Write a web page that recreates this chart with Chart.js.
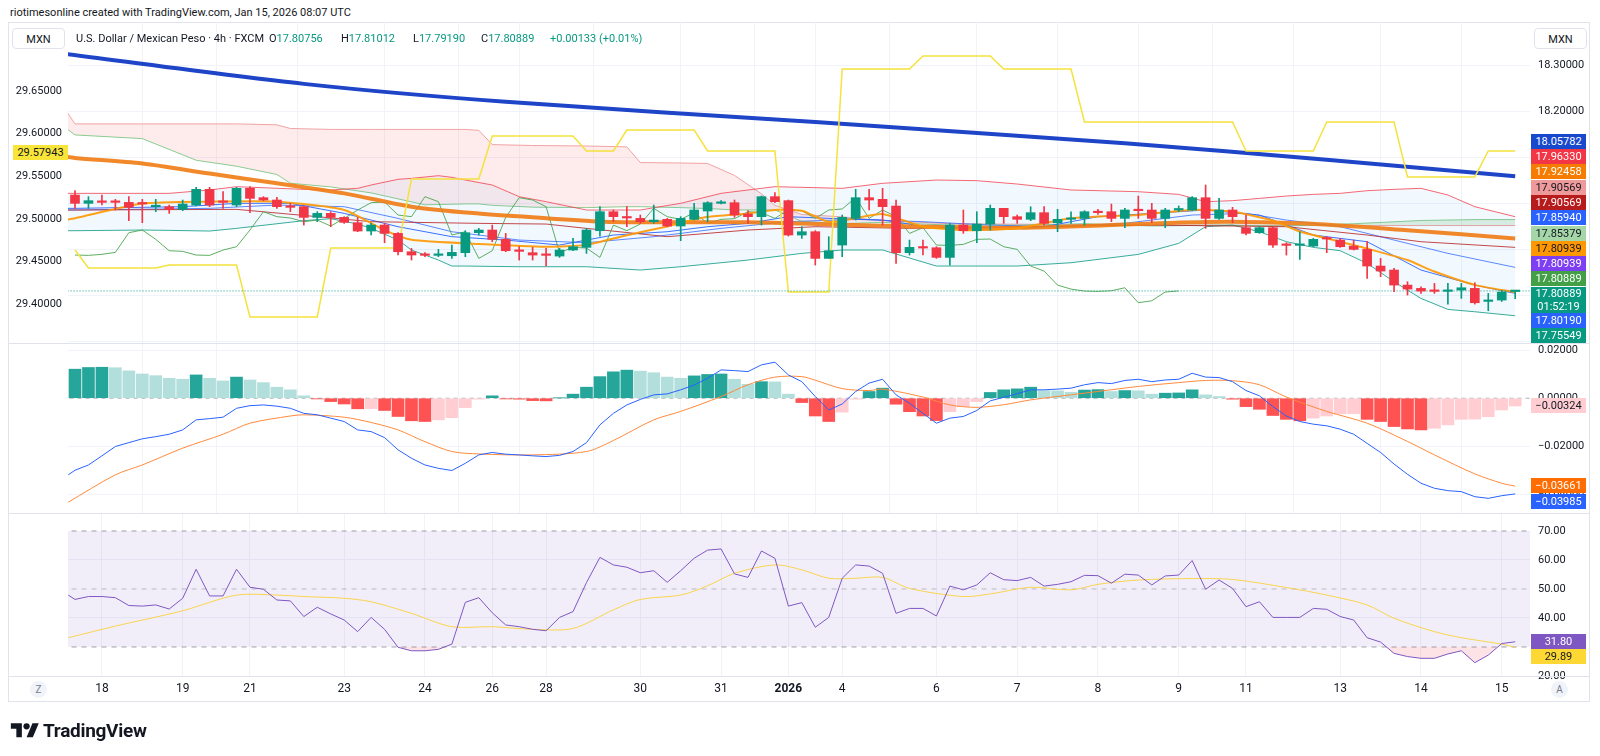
<!DOCTYPE html>
<html>
<head>
<meta charset="utf-8">
<script src="https://cdn.jsdelivr.net/npm/chart.js@4.4.1/dist/chart.umd.min.js"></script>
<style>
  body { margin: 0; width: 1600px; height: 756px; background: #fff; position: relative; overflow: hidden;
         font-family: Roboto, "Liberation Sans", sans-serif; color: #131722; }
  canvas { position: absolute; left: 8px; }
  .frame { position: absolute; left: 8px; top: 22px; width: 1582px; height: 680px; border: 1px solid #E0E3EB; box-sizing: border-box; }
  .sep { position: absolute; left: 8px; width: 1582px; height: 1px; background: #E0E3EB; }
  .pl { position: absolute; left: 1531px; width: 55px; height: 15px; line-height: 15px; font-size: 11px;
        text-align: center; color: #fff; }
  .box { position: absolute; top: 28px; width: 53px; height: 21px; border: 1px solid #E0E3EB; border-radius: 4px;
         font-size: 11px; line-height: 21px; text-align: center; background: #fff; box-sizing: border-box; }
  .circ { position: absolute; top: 681px; width: 17px; height: 17px; border-radius: 50%; background: #F0F3FA;
          font-size: 10px; line-height: 17px; text-align: center; color: #787B86; }
  .lg { position: absolute; top: 32px; font-size: 11px; white-space: nowrap; }
  .g { color: #089981; }
</style>
</head>
<body>
<div style="position:absolute;left:10px;top:6px;font-size:11px;">riotimesonline created with TradingView.com, Jan 15, 2026 08:07 UTC</div>
<div class="frame"></div>
<canvas id="main" width="1582" height="321" style="top:22px"></canvas>
<canvas id="macd" width="1582" height="170" style="top:343px"></canvas>
<canvas id="rsi" width="1582" height="189" style="top:513px"></canvas>
<div class="sep" style="top:343px"></div>
<div class="sep" style="top:513px"></div>
<div class="sep" style="top:676px"></div>

<div class="box" style="left:12px">MXN</div>
<div class="box" style="left:1534px">MXN</div>
<div class="lg" style="left:76px">U.S. Dollar / Mexican Peso · 4h · FXCM</div>
<div class="lg" style="left:269px">O<span class="g">17.80756</span></div>
<div class="lg" style="left:341px">H<span class="g">17.81012</span></div>
<div class="lg" style="left:413px">L<span class="g">17.79190</span></div>
<div class="lg" style="left:481px">C<span class="g">17.80889</span></div>
<div class="lg g" style="left:550px">+0.00133 (+0.01%)</div>

<div class="pl" style="left:13px;top:145px;background:#F9E43A;color:#131722;">29.57943</div>

<div class="pl" style="top:134px;background:#1848CC">18.05782</div>
<div class="pl" style="top:149px;background:#F23645">17.96330</div>
<div class="pl" style="top:164px;background:#F57C00">17.92458</div>
<div class="pl" style="top:180px;background:#EF9A9A;color:#131722">17.90569</div>
<div class="pl" style="top:195px;background:#B71C1C">17.90569</div>
<div class="pl" style="top:210px;background:#2962FF">17.85940</div>
<div class="pl" style="top:226px;background:#A5D6A7;color:#131722">17.85379</div>
<div class="pl" style="top:241px;background:#FF9800;color:#131722">17.80939</div>
<div class="pl" style="top:256px;background:#7E3FF2">17.80939</div>
<div class="pl" style="top:271px;background:#43A047">17.80889</div>
<div class="pl" style="top:287px;height:26px;line-height:13px;background:#089981">17.80889<br>01:52:19</div>
<div class="pl" style="top:313px;background:#2962FF">17.80190</div>
<div class="pl" style="top:328px;background:#089981">17.75549</div>

<div class="pl" style="top:398px;background:#FFCDD2;color:#131722">&minus;0.00324</div>
<div class="pl" style="top:478px;background:#FF6D00">&minus;0.03661</div>
<div class="pl" style="top:494px;background:#2962FF">&minus;0.03985</div>

<div class="pl" style="top:634px;background:#7E57C2">31.80</div>
<div class="pl" style="top:649px;background:#FDD835;color:#131722">29.89</div>

<div class="circ" style="left:30px">Z</div>
<div class="circ" style="left:1551px">A</div>

<div style="position:absolute;left:10px;top:719px;display:flex;align-items:center;">
  <svg width="30" height="22" viewBox="0 0 36 28"><path d="M14 22H7V11H0V4h14v18zM28 22h-8l7.5-18h8L28 22z" fill="#131722"/><circle cx="20" cy="8" r="4" fill="#131722"/></svg>
  <span style="font-size:19px;font-weight:bold;margin-left:3px;letter-spacing:-0.3px">TradingView</span>
</div>

<script>
// x positions are candle indices (4h bars), day labels sit on the first bar of each day
const dayIdx = [2, 8, 13, 20, 26, 31, 35, 42, 48, 53, 57, 64, 70, 76, 82, 87, 94, 100, 106];
const dayLabels = ['18', '19', '21', '23', '24', '26', '28', '30', '31', '2026', '4', '6', '7', '8', '9', '11', '13', '14', '15'];

const opens = [18.0174, 17.9993, 18.0036, 18.0036, 18.0014, 17.9999, 17.9920, 17.9920, 17.9862, 17.9956,
  18.0297, 18.0043, 17.9956, 18.0319, 18.0116, 18.0065, 17.9928, 17.9920, 17.9688, 17.9775,
  17.9688, 17.9572, 17.9391, 17.9521, 17.9340, 17.8941, 17.8884, 17.8862, 17.8854, 17.8920,
  17.9355, 17.9413, 17.9210, 17.8970, 17.8920, 17.8884, 17.8847, 17.8978, 17.9036, 17.9398,
  17.9811, 17.9703, 17.9666, 17.9594, 17.9645, 17.9500, 17.9645, 17.9826, 17.9993, 18.0007,
  17.9761, 17.9703, 18.0138, 18.0051, 17.9304, 17.9376, 17.8796, 17.9086, 17.9666, 18.0116,
  18.0080, 17.9935, 17.8920, 17.9043, 17.9028, 17.8818, 17.9521, 17.9398, 17.9543, 17.9884,
  17.9703, 17.9645, 17.9790, 17.9572, 17.9645, 17.9666, 17.9804, 17.9811, 17.9666, 17.9855,
  17.9848, 17.9666, 17.9848, 17.9848, 18.0116, 17.9666, 17.9848, 17.9463, 17.9355, 17.9463,
  17.9101, 17.9079, 17.9065, 17.9239, 17.9195, 17.9065, 17.8992, 17.8630, 17.8543, 17.8216,
  17.8144, 17.8093, 17.8079, 17.8108, 17.8144, 17.7861, 17.7890, 17.80756];
const highs = [18.0268, 18.0138, 18.0174, 18.0080, 18.0138, 18.0080, 18.0080, 17.9956, 18.0065, 18.0341,
  18.0341, 18.0246, 18.0341, 18.0355, 18.0138, 18.0123, 17.9993, 17.9935, 17.9811, 17.9811,
  17.9703, 17.9688, 17.9558, 17.9558, 17.9355, 17.9014, 17.8920, 17.8992, 17.9086, 17.9398,
  17.9449, 17.9521, 17.9340, 17.9050, 17.9036, 17.9014, 17.9014, 17.9231, 17.9449, 17.9920,
  17.9848, 17.9920, 17.9739, 17.9956, 17.9666, 17.9703, 17.9993, 18.0029, 18.0051, 18.0065,
  17.9833, 18.0152, 18.0225, 18.0065, 17.9485, 17.9398, 17.9268, 17.9739, 18.0297, 18.0297,
  18.0319, 18.0065, 17.9195, 17.9195, 17.9050, 17.9558, 17.9848, 17.9811, 17.9956, 17.9884,
  17.9739, 17.9920, 17.9920, 17.9862, 17.9811, 17.9833, 17.9862, 17.9978, 17.9884, 18.0152,
  17.9993, 17.9884, 17.9935, 18.0138, 18.0391, 18.0101, 17.9906, 17.9739, 17.9485, 17.9485,
  17.9137, 17.9376, 17.9231, 17.9268, 17.9231, 17.9195, 17.9159, 17.8796, 17.8579, 17.8289,
  17.8180, 17.8253, 17.8253, 17.8253, 17.8267, 17.8035, 17.8100, 17.81012];
const lows = [17.9884, 17.9884, 17.9956, 17.9848, 17.9616, 17.9572, 17.9811, 17.9775, 17.9833, 17.9935,
  17.9920, 17.9884, 17.9920, 17.9790, 18.0051, 17.9884, 17.9811, 17.9521, 17.9594, 17.9485,
  17.9558, 17.9376, 17.9304, 17.9137, 17.8869, 17.8760, 17.8833, 17.8833, 17.8796, 17.8833,
  17.9304, 17.9159, 17.8941, 17.8760, 17.8760, 17.8630, 17.8818, 17.8963, 17.8905, 17.9282,
  17.9594, 17.9485, 17.9558, 17.9558, 17.9485, 17.9181, 17.9630, 17.9594, 17.9978, 17.9688,
  17.9558, 17.9521, 18.0007, 17.9282, 17.9231, 17.8651, 17.8796, 17.8833, 17.9630, 17.9848,
  17.9521, 17.8688, 17.8869, 17.8869, 17.8796, 17.8651, 17.9340, 17.9137, 17.9413, 17.9558,
  17.9558, 17.9616, 17.9521, 17.9376, 17.9558, 17.9521, 17.9753, 17.9594, 17.9463, 17.9666,
  17.9572, 17.9463, 17.9811, 17.9833, 17.9449, 17.9645, 17.9572, 17.9304, 17.9340, 17.9036,
  17.8869, 17.8775, 17.9050, 17.8920, 17.9036, 17.8978, 17.8361, 17.8398, 17.8071, 17.7999,
  17.8035, 17.8035, 17.7803, 17.7926, 17.7803, 17.7658, 17.7860, 17.79190];
const closes = [17.9993, 18.0051, 18.0014, 18.0014, 17.9906, 17.9978, 17.9949, 17.9862, 17.9978, 18.0297,
  17.9956, 18.0014, 18.0319, 18.0101, 18.0065, 17.9920, 17.9906, 17.9688, 17.9775, 17.9688,
  17.9579, 17.9391, 17.9521, 17.9340, 17.8941, 17.8869, 17.8862, 17.8884, 17.8927, 17.9355,
  17.9413, 17.9210, 17.8963, 17.8949, 17.8869, 17.8862, 17.8978, 17.9050, 17.9413, 17.9811,
  17.9703, 17.9674, 17.9594, 17.9630, 17.9500, 17.9666, 17.9848, 18.0007, 18.0022, 17.9739,
  17.9703, 18.0138, 18.0029, 17.9304, 17.9376, 17.8796, 17.8963, 17.9688, 18.0116, 18.0065,
  17.9920, 17.8920, 17.9036, 17.9021, 17.8818, 17.9521, 17.9398, 17.9543, 17.9884, 17.9703,
  17.9645, 17.9790, 17.9558, 17.9645, 17.9659, 17.9811, 17.9790, 17.9666, 17.9848, 17.9833,
  17.9666, 17.9848, 17.9870, 18.0116, 17.9666, 17.9848, 17.9703, 17.9340, 17.9463, 17.9086,
  17.9079, 17.9101, 17.9210, 17.9217, 17.9050, 17.8992, 17.8630, 17.8521, 17.8216, 17.8129,
  17.8086, 17.8079, 17.8093, 17.8158, 17.7832, 17.7875, 17.8065, 17.80889];

// moving averages (sparse points)
const emaLongIdx = [-1, 17, 32, 55, 78, 93, 107];
const emaLong = [18.325, 18.259, 18.220, 18.176, 18.130, 18.094, 18.058];
const emaMidIdx = [-1, 0, 5, 10, 15, 20, 25, 30, 35, 40, 50, 58, 70, 84, 91, 99, 107];
const emaMid = [18.102, 18.098, 18.086, 18.064, 18.043, 18.021, 17.992, 17.977, 17.967, 17.959,
  17.958, 17.952, 17.946, 17.959, 17.956, 17.941, 17.923];
const emaFastIdx = [-1, 0, 5, 10, 15, 20, 23, 25, 30, 35, 38, 41, 44, 47, 50, 52, 54, 56, 58, 60,
  63, 66, 70, 74, 79, 83, 86, 89, 91, 94, 96, 99, 101, 104, 107];
const emaFast = [17.962, 17.967, 17.999, 18.003, 18.003, 17.985, 17.941, 17.920, 17.911, 17.905,
  17.909, 17.930, 17.949, 17.970, 17.977, 17.985, 17.983, 17.959, 17.967, 17.976,
  17.949, 17.941, 17.945, 17.967, 17.974, 17.985, 17.981, 17.962, 17.938, 17.916,
  17.901, 17.876, 17.851, 17.822, 17.806];

// bollinger bands
const bbIdx = [-1, 0, 5, 7, 10, 12, 17, 19, 21, 22, 24, 25, 27, 28, 29, 31, 33, 35, 38, 42, 45, 48,
  50, 52, 54, 57, 60, 64, 67, 70, 74, 79, 82, 84, 86, 88, 90, 92, 94, 96, 98, 100, 102, 104, 107];
const bbUpper = [18.0210, 18.0210, 18.0210, 18.0210, 18.0283, 18.0355, 18.0297, 18.0283, 18.0319, 18.0391,
  18.0515, 18.0536, 18.0594, 18.0558, 18.0500, 18.0391, 18.0138, 18.0029, 17.9848, 17.9848,
  17.9993, 18.0210, 18.0283, 18.0355, 18.0341, 18.0319, 18.0428, 18.0500, 18.0486, 18.0413,
  18.0283, 18.0246, 18.0188, 18.0029, 18.0051, 18.0101, 18.0152, 18.0188, 18.0210, 18.0268,
  18.0297, 18.0319, 18.0174, 17.9920, 17.9703];
const bbLower = [17.9398, 17.9398, 17.9413, 17.9405, 17.9391, 17.9449, 17.9616, 17.9659, 17.9543, 17.9449,
  17.9195, 17.8978, 17.8760, 17.8630, 17.8630, 17.8622, 17.8615, 17.8615, 17.8615, 17.8543,
  17.8615, 17.8702, 17.8760, 17.8833, 17.8905, 17.8978, 17.8978, 17.8630, 17.8630, 17.8630,
  17.8702, 17.8883, 17.9123, 17.9485, 17.9521, 17.9376, 17.9159, 17.9036, 17.8963, 17.8688,
  17.8289, 17.7926, 17.7687, 17.7636, 17.7549];
const bbBasisIdx = [-1, 0, 10, 15, 20, 24, 28, 33, 38, 43, 48, 53, 58, 63, 68, 73, 78, 83, 87, 90, 94, 98, 102, 107];
const bbBasis = [17.9848, 17.9848, 17.9884, 17.9956, 17.9920, 17.9666, 17.9376, 17.9195, 17.9137, 17.9268,
  17.9449, 17.9594, 17.9645, 17.9594, 17.9521, 17.9485, 17.9558, 17.9739, 17.9775, 17.9630,
  17.9485, 17.9195, 17.8905, 17.8601];

// ichimoku
const tenkanIdx = [-1, 0, 8, 12, 16, 20, 24, 28, 32, 36, 40, 44, 47, 50, 53, 56, 60, 64, 68, 72, 76,
  80, 84, 88, 92, 96, 100, 104, 107];
const tenkan = [17.9884, 17.9884, 17.9920, 17.9993, 17.9993, 17.9775, 17.9485, 17.9268, 17.9195, 17.9086,
  17.9304, 17.9376, 17.9485, 17.9558, 17.9703, 17.9666, 17.9630, 17.9449, 17.9413, 17.9485,
  17.9703, 17.9775, 17.9848, 17.9739, 17.9304, 17.9159, 17.8543, 17.8216, 17.8035];
const kijunIdx = [-1, 0, 12, 18, 22, 30, 35, 38, 44, 50, 55, 62, 70, 80, 90, 96, 100, 107];
const kijun = [17.9848, 17.9848, 17.9862, 17.9703, 17.9594, 17.9558, 17.9543, 17.9449, 17.9268, 17.9413,
  17.9485, 17.9449, 17.9485, 17.9521, 17.9485, 17.9304, 17.9159, 17.9036];
const cloudIdx = [-1, 0, 5, 9, 12, 15, 16, 19, 22, 26, 29, 30, 31, 34, 38, 41, 42, 45, 47, 49, 51, 52,
  54, 57, 60, 65, 70, 75, 80, 85, 90, 95, 100, 104, 107];
const spanB = [18.215, 18.172, 18.172, 18.172, 18.172, 18.170, 18.162, 18.160, 18.160, 18.160,
  18.160, 18.158, 18.127, 18.125, 18.124, 18.122, 18.088, 18.087, 18.086, 18.060,
  18.020, 17.995, 17.975, 17.970, 17.962, 17.955, 17.954, 17.953, 17.952, 17.952,
  17.951, 17.951, 17.951, 17.951, 17.951];
const spanA = [18.170, 18.148, 18.140, 18.093, 18.080, 18.062, 18.043, 18.035, 18.022, 17.996,
  17.998, 17.998, 17.995, 17.991, 17.990, 17.992, 17.992, 17.990, 17.988, 17.985,
  17.985, 17.985, 17.960, 17.955, 17.958, 17.952, 17.952, 17.955, 17.950, 17.952,
  17.950, 17.955, 17.962, 17.964, 17.964];
const lagShift = 25;
const laggingSpan = closes.slice(lagShift);

// compared symbol on the left scale
const compareLine = [29.4634,
  29.4423, 29.4423, 29.4423, 29.4423, 29.4423, 29.4423,
  29.4458, 29.4458, 29.4458, 29.4458, 29.4458, 29.4458,
  29.3847, 29.3847, 29.3847, 29.3847, 29.3847, 29.3847,
  29.4657, 29.4657, 29.4657, 29.4657, 29.4657, 29.4657,
  29.5467, 29.5467, 29.5467, 29.5467, 29.5467, 29.5467,
  29.5972, 29.5972, 29.5972, 29.5972, 29.5972, 29.5972, 29.5972,
  29.5796, 29.5796, 29.5796,
  29.6042, 29.6042, 29.6042, 29.6042, 29.6042, 29.6042,
  29.5796, 29.5796, 29.5796, 29.5796, 29.5796, 29.5796,
  29.4141, 29.4141, 29.4141, 29.4141,
  29.6758, 29.6758, 29.6758, 29.6758, 29.6758, 29.6758,
  29.6911, 29.6911, 29.6911, 29.6911, 29.6911, 29.6911,
  29.6758, 29.6758, 29.6758, 29.6758, 29.6758, 29.6758,
  29.6136, 29.6136, 29.6136, 29.6136, 29.6136, 29.6136, 29.6136, 29.6136, 29.6136, 29.6136, 29.6136, 29.6136,
  29.5796, 29.5796, 29.5796, 29.5796, 29.5796, 29.5796,
  29.6136, 29.6136, 29.6136, 29.6136, 29.6136, 29.6136,
  29.5491, 29.5491, 29.5491, 29.5491, 29.5491, 29.5491,
  29.5796, 29.5796, 29.5796];

// MACD
const macdLine = [-0.0300, -0.0278, -0.0240, -0.0201, -0.0185, -0.0169, -0.0160, -0.0150, -0.0132, -0.0090,
  -0.0085, -0.0079, -0.0042, -0.0031, -0.0028, -0.0033, -0.0042, -0.0063, -0.0069, -0.0083,
  -0.0097, -0.0132, -0.0139, -0.0164, -0.0215, -0.0250, -0.0278, -0.0292, -0.0301, -0.0271,
  -0.0236, -0.0226, -0.0233, -0.0236, -0.0240, -0.0243, -0.0238, -0.0222, -0.0185, -0.0111,
  -0.0063, -0.0028, -0.0005, 0.0014, 0.0018, 0.0035, 0.0055, 0.0083, 0.0118, 0.0115,
  0.0111, 0.0139, 0.0150, 0.0097, 0.0069, 0.0007, -0.0049, -0.0024, 0.0028, 0.0063,
  0.0079, 0.0014, -0.0021, -0.0063, -0.0104, -0.0083, -0.0076, -0.0051, -0.0011, 0.0004,
  0.0019, 0.0035, 0.0035, 0.0038, 0.0042, 0.0056, 0.0065, 0.0061, 0.0074, 0.0079,
  0.0069, 0.0076, 0.0079, 0.0104, 0.0088, 0.0086, 0.0069, 0.0032, 0.0010, -0.0035,
  -0.0074, -0.0097, -0.0108, -0.0115, -0.0129, -0.0150, -0.0188, -0.0226, -0.0274, -0.0317,
  -0.0354, -0.0375, -0.0385, -0.0389, -0.0410, -0.0417, -0.0406, -0.03985];
const signalIdx = [-0.5, 3, 5, 8, 11, 13, 16, 17, 20, 22, 24, 26, 28, 30, 34, 38, 40, 43, 45, 48, 50, 52,
  54, 55, 57, 59, 60, 63, 65, 67, 69, 71, 75, 79, 82, 84, 86, 88, 90, 93, 96, 99, 101, 104, 106, 107];
const signalLine = [-0.0433, -0.0319, -0.0278, -0.0208, -0.0150, -0.0104, -0.0074, -0.0069, -0.0079, -0.0101,
  -0.0132, -0.0181, -0.0222, -0.0232, -0.0236, -0.0222, -0.0176, -0.0090, -0.0055, 0.0007,
  0.0056, 0.0088, 0.0090, 0.0075, 0.0040, 0.0032, 0.0038, 0.0005, -0.0028, -0.0038,
  -0.0027, -0.0007, 0.0021, 0.0049, 0.0065, 0.0074, 0.0073, 0.0056, 0.0005, -0.0055,
  -0.0104, -0.0180, -0.0236, -0.0315, -0.0354, -0.03661];
const macdHist = [0.0121, 0.0128, 0.0129, 0.0127, 0.0114, 0.0101, 0.0094, 0.0083, 0.0079, 0.0097,
  0.0083, 0.0072, 0.0088, 0.0076, 0.0065, 0.0046, 0.0035, 0.0010, -0.0003, -0.0014,
  -0.0024, -0.0044, -0.0043, -0.0051, -0.0076, -0.0094, -0.0097, -0.0090, -0.0081, -0.0039,
  -0.0004, 0.0010, -0.0003, -0.0004, -0.0010, -0.0011, 0.0001, 0.0017, 0.0046, 0.0090,
  0.0110, 0.0117, 0.0113, 0.0106, 0.0088, 0.0083, 0.0093, 0.0099, 0.0101, 0.0079,
  0.0058, 0.0069, 0.0068, 0.0017, -0.0018, -0.0074, -0.0097, -0.0058, -0.0004, 0.0028,
  0.0042, -0.0025, -0.0056, -0.0074, -0.0093, -0.0056, -0.0035, -0.0014, 0.0024, 0.0035,
  0.0039, 0.0046, 0.0032, 0.0031, 0.0025, 0.0034, 0.0036, 0.0028, 0.0032, 0.0031,
  0.0017, 0.0021, 0.0022, 0.0035, 0.0014, 0.0007, -0.0004, -0.0035, -0.0046, -0.0072,
  -0.0088, -0.0094, -0.0083, -0.0074, -0.0065, -0.0064, -0.0088, -0.0097, -0.0118, -0.0128,
  -0.0132, -0.0125, -0.0111, -0.0088, -0.0087, -0.0077, -0.0049, -0.00324];

// RSI
const rsi = [46.4, 47.4, 47.4, 47.0, 44.3, 44.1, 44.5, 43.1, 46.8, 56.8,
  47.6, 47.6, 56.8, 50.6, 49.9, 46.2, 45.9, 40.5, 43.7, 41.4,
  39.3, 35.3, 40.2, 36.1, 29.9, 28.7, 28.7, 29.2, 31.0, 45.4,
  47.0, 41.8, 37.6, 37.0, 36.1, 35.6, 40.2, 42.2, 52.2, 60.9,
  58.3, 57.5, 55.6, 56.3, 52.3, 56.3, 60.6, 63.4, 63.8, 55.2,
  54.0, 63.1, 60.6, 44.1, 45.3, 36.8, 40.2, 53.7, 58.3, 57.9,
  55.4, 41.6, 43.3, 43.3, 40.7, 51.0, 49.7, 51.4, 55.6, 53.2,
  52.9, 54.0, 51.0, 51.6, 52.5, 54.7, 54.6, 52.0, 55.1, 54.8,
  51.4, 54.5, 54.8, 59.8, 49.9, 53.1, 50.2, 43.9, 45.6, 40.2,
  40.2, 40.2, 43.3, 43.0, 40.5, 39.3, 33.2, 31.7, 27.8, 26.7,
  26.1, 26.1, 27.6, 28.7, 24.6, 27.2, 31.2, 31.8];
const rsiMaIdx = [-0.5, 3, 8, 12, 15, 17, 20, 22, 25, 28, 31, 34, 37, 40, 42, 45, 47, 49, 52, 54, 56, 58,
  60, 62, 66, 68, 71, 74, 76, 79, 83, 86, 90, 93, 96, 98, 101, 103, 106, 107];
const rsiMa = [33.2, 37.2, 42.5, 47.9, 47.9, 47.4, 46.8, 45.6, 41.6, 37.0, 37.0, 36.1, 36.4, 42.8, 46.4,
  47.9, 51.1, 55.4, 58.3, 56.6, 53.7, 53.7, 54.0, 50.2, 47.4, 48.3, 50.6, 49.7, 51.6, 53.1,
  53.6, 53.3, 50.5, 47.9, 44.5, 39.9, 35.3, 33.2, 31.0, 29.89];
const rsiLevels = [70, 50, 30];

// tick values
const priceTicks = [17.7, 17.8, 17.9, 18.0, 18.1, 18.2, 18.3];
const compareTicks = [29.40, 29.45, 29.50, 29.55, 29.60, 29.65];
const macdTicks = [0.02, 0, -0.02, -0.04];
const rsiTicks = [70, 60, 50, 40, 30, 20];

const GRID = '#F0F3FA';
const FONT = 'Roboto, "Liberation Sans", sans-serif';
Chart.defaults.font.family = FONT;
Chart.defaults.font.size = 11;
Chart.defaults.color = '#131722';

const pts = (xs, ys) => xs.map((x, i) => ({x: x, y: ys[i]}));
const seq = (ys, from) => ys.map((y, i) => ({x: i + (from || 0), y: y}));
const level = v => [{x: -1, y: v}, {x: 109, y: v}];
const minus = v => (v < 0 ? '\u2212' : '') + Math.abs(v).toFixed(5);
// keep the plot area the full canvas: no extra room for tick labels
const noPad = s => { s.paddingTop = 0; s.paddingBottom = 0; s.paddingLeft = 0; s.paddingRight = 0; };

function xAxis(labels) {
  return {
    type: 'linear', min: -0.52, max: 108.1, offset: false,
    afterBuildTicks: s => { s.ticks = dayIdx.map(v => ({value: v})); },
    grid: {color: GRID, drawTicks: false},
    border: {display: false},
    ticks: labels ? {
      autoSkip: false, maxRotation: 0, padding: 6, color: '#131722',
      font: ctx => ({family: FONT, size: 12, weight: dayLabels[ctx.index] === '2026' ? 'bold' : 'normal'}),
      callback: (v, i) => dayLabels[i]
    } : {display: false},
    afterFit: s => { s.height = labels ? 26 : 0; noPad(s); }
  };
}
function rightAxis(min, max, ticks, fmt, gridColor) {
  return {
    position: 'right', min: min, max: max,
    afterBuildTicks: s => { s.ticks = ticks.map(v => ({value: v})); },
    grid: {color: gridColor || GRID, drawTicks: false},
    border: {display: false},
    ticks: {padding: 8, callback: fmt},
    afterFit: s => { s.width = 60; noPad(s); }
  };
}
const line = (data, color, width, extra) => Object.assign({
  type: 'line', data: data, borderColor: color, borderWidth: width, pointRadius: 0, fill: false
}, extra || {});
const base = {
  responsive: false, animation: false, events: [],
  layout: {autoPadding: false},
  plugins: {legend: {display: false}, tooltip: {enabled: false}}
};

const candleColor = closes.map((c, i) => c >= opens[i] ? '#089981' : '#F23645');

new Chart(document.getElementById('main'), {
  type: 'line',
  data: {datasets: [
    line(pts(cloudIdx, spanB), 'rgba(239,154,154,0.9)', 1,
      {fill: {target: '+1', above: 'rgba(242,54,69,0.10)', below: 'rgba(67,160,71,0.16)'}, order: 20}),
    line(pts(cloudIdx, spanA), 'rgba(129,199,132,0.9)', 1, {order: 19}),
    line(pts(bbIdx, bbUpper), 'rgba(242,54,69,0.75)', 1,
      {fill: {target: '+1', above: 'rgba(33,150,243,0.06)', below: 'rgba(33,150,243,0.06)'}, order: 18}),
    line(pts(bbIdx, bbLower), 'rgba(8,153,129,0.8)', 1, {order: 17}),
    line(pts(bbBasisIdx, bbBasis), 'rgba(41,98,255,0.75)', 1, {order: 16}),
    line(pts(tenkanIdx, tenkan), 'rgba(41,98,255,0.9)', 1, {order: 15}),
    line(pts(kijunIdx, kijun), 'rgba(183,28,28,0.8)', 1, {order: 14}),
    line(seq(laggingSpan), 'rgba(67,160,71,0.85)', 1, {order: 13}),
    line(pts(emaMidIdx, emaMid), 'rgba(240,124,20,0.9)', 4, {order: 12, tension: 0.3}),
    line(pts(emaLongIdx, emaLong), '#1E44C8', 4, {order: 11, tension: 0.3}),
    line(pts(emaFastIdx, emaFast), 'rgba(255,152,0,0.9)', 2, {order: 10, tension: 0.2}),
    line(seq(compareLine), '#F5E23C', 1.5, {yAxisID: 'yl', order: 9}),
    line(level(closes[closes.length - 1]), '#089981', 1, {borderDash: [1, 2], order: 8}),
    {type: 'bar', data: closes.map((c, i) => ({x: i, y: [lows[i], highs[i]]})),
      backgroundColor: candleColor, barThickness: 1, grouped: false, order: 2},
    {type: 'bar', data: closes.map((c, i) => ({x: i, y: [opens[i], c]})),
      backgroundColor: candleColor, barThickness: 9, minBarLength: 1.5, grouped: false, order: 1}
  ]},
  options: Object.assign({}, base, {scales: {
    x: xAxis(false),
    y: rightAxis(17.6957, 18.3935, priceTicks, v => v.toFixed(5)),
    yl: {position: 'left', min: 29.3542, max: 29.7310,
      afterBuildTicks: s => { s.ticks = compareTicks.map(v => ({value: v})); },
      grid: {display: false, drawTicks: false}, border: {display: false},
      ticks: {padding: 6, callback: v => v.toFixed(5)},
      afterFit: s => { s.width = 60; noPad(s); }}
  }})
});

const histColors = macdHist.map((v, i) => {
  const prev = i > 0 ? macdHist[i - 1] : v;
  if (v >= 0) return v >= prev ? '#26A69A' : '#B2DFDB';
  return v <= prev ? '#FF5252' : '#FFCDD2';
});

new Chart(document.getElementById('macd'), {
  type: 'line',
  data: {datasets: [
    line(level(0), 'rgba(120,123,134,0.6)', 1, {borderDash: [4, 4], order: 5}),
    {type: 'bar', data: seq(macdHist), backgroundColor: histColors, barThickness: 12, grouped: false, order: 4},
    line(pts(signalIdx, signalLine), '#FF8A3D', 1, {order: 2, tension: 0.3}),
    line(pts([-0.5], [-0.0319]).concat(seq(macdLine)), '#2962FF', 1, {order: 1})
  ]},
  options: Object.assign({}, base, {
    layout: {autoPadding: false, padding: {left: 60}},
    scales: {
      x: xAxis(false),
      y: rightAxis(-0.0478, 0.0230, macdTicks, minus, ctx => ctx.tick.value === 0 ? 'transparent' : GRID)
    }
  })
});

new Chart(document.getElementById('rsi'), {
  type: 'line',
  data: {datasets: [
    line(level(rsiLevels[0]), 'rgba(120,123,134,0.7)', 1,
      {borderDash: [5, 5], fill: {target: {value: rsiLevels[2]}}, backgroundColor: 'rgba(126,87,194,0.10)', order: 6}),
    line(level(rsiLevels[1]), 'rgba(120,123,134,0.45)', 1, {borderDash: [5, 5], order: 5}),
    line(level(rsiLevels[2]), 'rgba(120,123,134,0.7)', 1, {borderDash: [5, 5], order: 4}),
    line(pts(rsiMaIdx, rsiMa), 'rgba(249,210,60,0.9)', 1, {order: 2, tension: 0.3}),
    line(pts([-0.5], [47.9]).concat(seq(rsi)), '#7E57C2', 1,
      {fill: {target: {value: rsiLevels[2]}, above: 'rgba(0,0,0,0)', below: 'rgba(242,54,69,0.14)'}, order: 1})
  ]},
  options: Object.assign({}, base, {
    layout: {autoPadding: false, padding: {left: 60}},
    scales: {
      x: xAxis(true),
      y: rightAxis(20, 76.2, rsiTicks, v => v.toFixed(2),
        ctx => (ctx.tick.value === 40 || ctx.tick.value === 60) ? GRID : 'transparent')
    }
  })
});
</script>
</body>
</html>
